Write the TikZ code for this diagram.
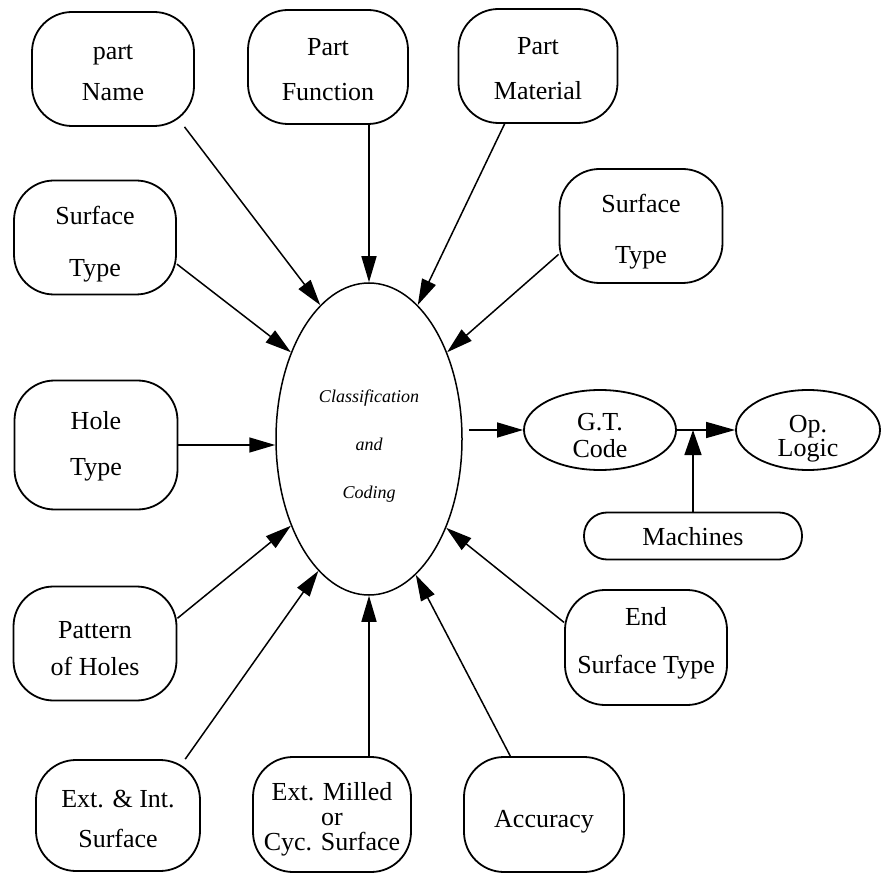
\documentclass[tikz,border=0pt]{standalone}
\usepackage{fontspec}
\setmainfont{Liberation Serif}
\usetikzlibrary{shapes.geometric,arrows.meta,calc}
\newcommand{\mlines}[1]{\begin{tabular}[t]{@{}c@{}}#1\end{tabular}}
\begin{document}
\begin{tikzpicture}[x=0.5pt,y=-0.5pt,
  box/.style={draw, line width=0.9pt, rounded corners=20pt, minimum width=81pt, minimum height=57pt, inner sep=0pt},
  lsp/.style={font=\fontsize{13}{#1}\selectfont},
  tb/.style 2 args={text height=#1, text depth=#2},
  oval/.style={draw, line width=0.9pt, ellipse, inner sep=0pt},
  arr/.style={line width=0.75pt, -{Triangle[length=13pt,width=7.5pt]}}
]
\path[use as bounding box] (0,0) rectangle (882,876);

% central ellipse
\node[oval, line width=0.75pt, minimum width=93pt, minimum height=156pt,
      font=\fontsize{9}{23.75}\selectfont\itshape, tb={2pt}{38pt}] (cc) at (369,439)
      {\mlines{Classification\\and\\Coding}};

% input boxes
\node[box, lsp=20.5, tb={3.5pt}{12.5pt}] (pn)  at (113,69)  {\mlines{part\\Name}};
\node[box, lsp=22.5, tb={2.25pt}{13.75pt}, minimum width=80pt] (pf)  at (328,67)  {\mlines{Part\\Function}};
\node[box, lsp=22.5, tb={2.25pt}{13.75pt}, minimum width=79.5pt] (pm)  at (538,66)  {\mlines{Part\\Material}};
\node[box, lsp=26, tb={1.75pt}{14.25pt}] (stl) at (95,237.5)  {\mlines{Surface\\Type}};
\node[box, lsp=25.5, tb={1.5pt}{14.5pt}, minimum width=81.5pt] (str) at (641,226) {\mlines{Surface\\Type}};
\node[box, lsp=23, tb={0.25pt}{15.75pt}, minimum width=81.5pt, minimum height=64.5pt] (ht) at (96,445) {\mlines{Hole\\Type}};
\node[box, lsp=18.5, tb={5.25pt}{10.75pt}, minimum width=81.5pt, minimum height=57pt] (pat) at (95,643.5) {\mlines{Pattern\\of Holes}};
\node[box, lsp=20, tb={3.75pt}{12.25pt}, minimum width=82pt, minimum height=55.5pt] (ei) at (118,815.5) {\mlines{Ext. \& Int.\\Surface}};
\node[box, lsp=12.5, tb={0.75pt}{15.25pt}, minimum width=79pt, minimum height=57.5pt] (em) at (332,814.5) {\mlines{Ext. Milled\\or\\Cyc. Surface}};
\node[box, lsp=15, tb={14.25pt}{1.75pt}, minimum width=80pt, minimum height=57.5pt] (acc) at (544,814.5) {Accuracy};
\node[box, lsp=24, tb={0.75pt}{23.25pt}, minimum height=57.5pt] (end) at (646,647.5) {\mlines{End\\Surface Type}};

% right side
\node[oval, lsp=13.5, tb={8pt}{8pt}, minimum width=76pt, minimum height=40pt] (gt) at (600,430) {\mlines{G.T.\\Code}};
\node[oval, lsp=12, tb={9pt}{7pt}, minimum width=72pt, minimum height=40pt] (op) at (808,430) {\mlines{Op.\\Logic}};
\node[box, lsp=15, tb={12.5pt}{3.5pt}, rounded corners=11.5pt, minimum width=109pt, minimum height=23.5pt] (mach) at (693,536) {Machines};

% connectors into the central ellipse
\draw[arr] (pn.-39.5) -- (cc.110.4);
\draw[arr] (cc.north |- pf.south) -- (cc.north);
\draw[arr] (pm.240.3) -- (cc.70.3);
\draw[arr] (stl.-18.9) -- (cc.132.8);
\draw[arr] (str.199.6) -- (cc.48.7);
\draw[arr] (ht.east) -- (ht.east -| cc.west);
\draw[arr] (pat.17.1) -- (cc.228.5);
\draw[arr] (ei.40) -- (cc.249.6);
\draw[arr] (cc.south |- em.north) -- (cc.south);
\draw[arr] (acc.120.4) -- (cc.289.5);
\draw[arr] (end.163.1) -- (cc.311.1);

% outputs
\draw[arr, shorten <=3pt] (cc.east |- gt.west) -- (gt.west);
\draw[line width=0.75pt, -{Triangle[length=14.5pt,width=8pt]}] (gt.east) -- (op.west);
\draw[line width=0.75pt, -{Triangle[length=12.5pt,width=8.5pt]}] (mach.north) -- (mach.north |- gt.east);
\end{tikzpicture}
\end{document}
